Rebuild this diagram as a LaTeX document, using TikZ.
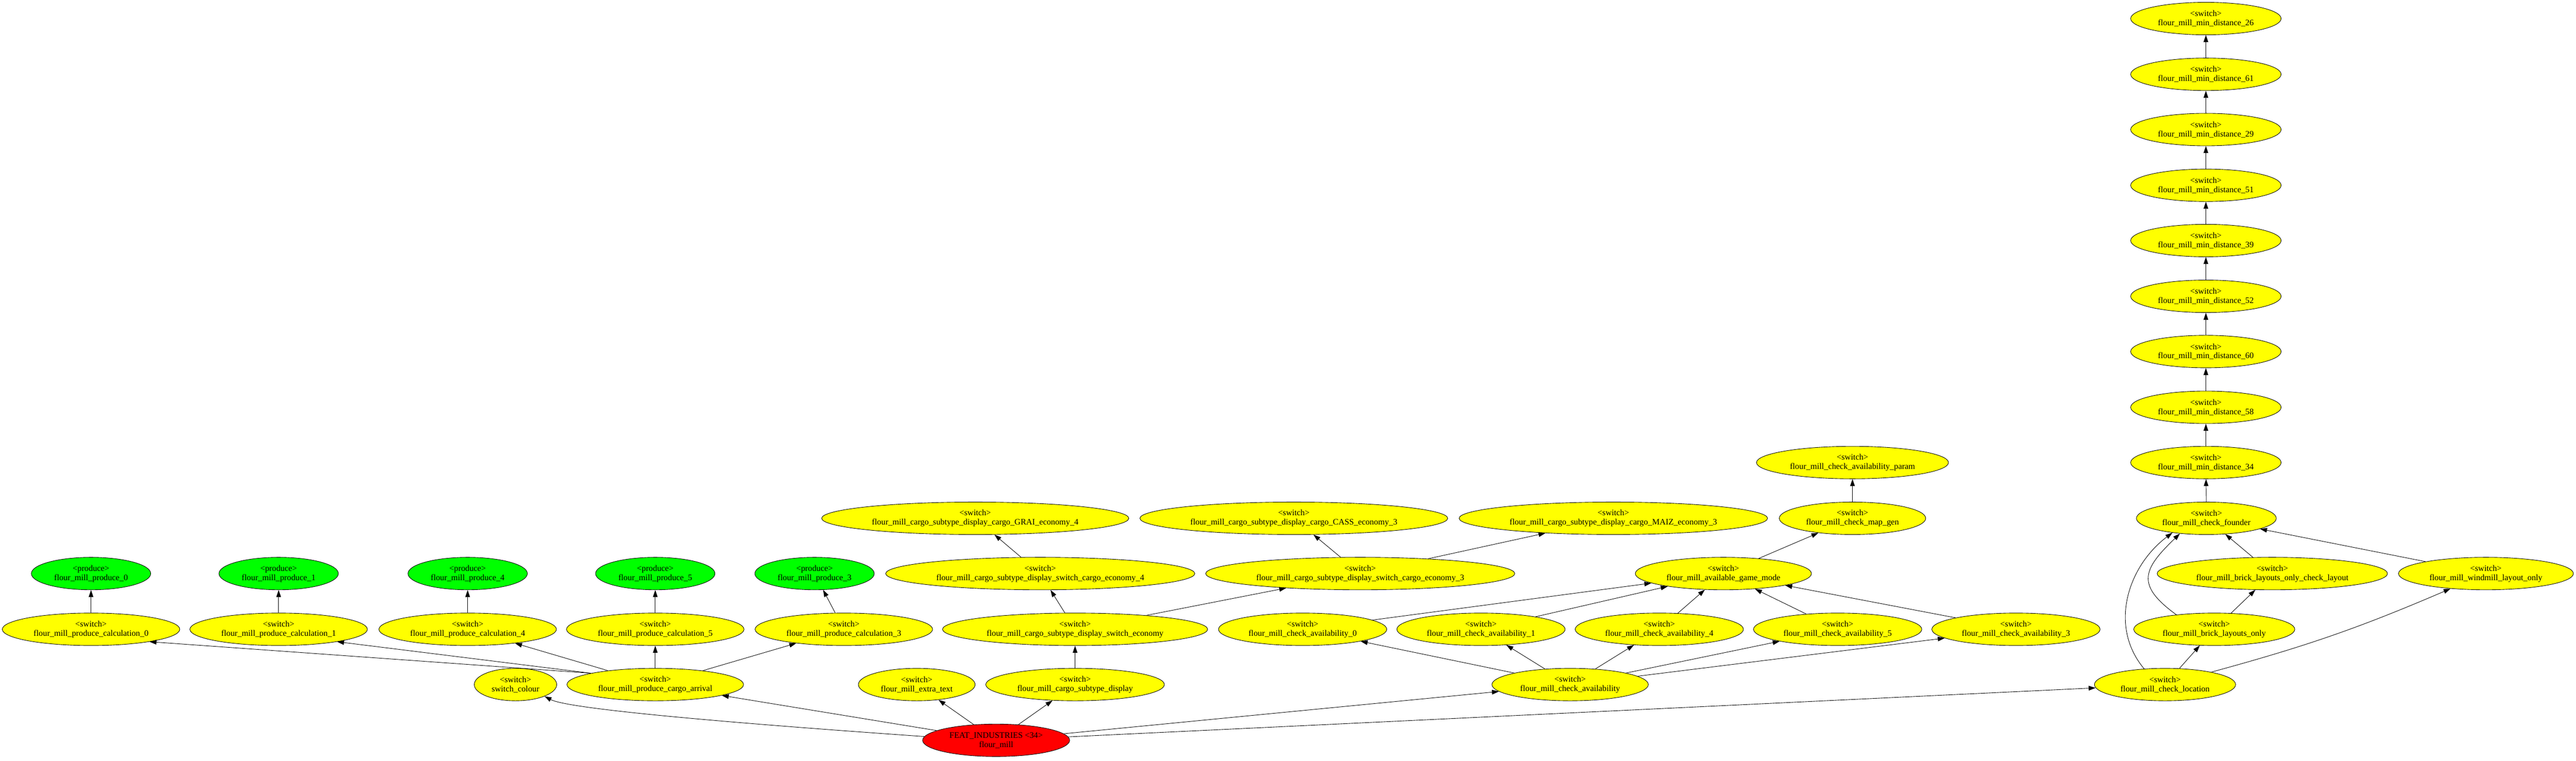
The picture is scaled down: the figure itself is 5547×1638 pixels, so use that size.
\documentclass[tikz,border=0pt]{standalone}
\usepackage{fontspec}
\setmainfont{Liberation Serif}
\usetikzlibrary{shapes.geometric,arrows.meta}
\definecolor{myyellow}{RGB}{255,255,0}
\definecolor{mygreen}{RGB}{0,255,0}
\definecolor{myred}{RGB}{255,0,0}

\begin{document}
\begin{tikzpicture}[x=0.2mm, y=0.2mm,
    gv/.style={ellipse, draw, line width=0.55pt, align=center, inner xsep=2.3mm, inner ysep=0pt,
        minimum height=14mm, font=\fontsize{10.3pt}{11.3pt}\selectfont},
    sw/.style={gv, fill=myyellow},
    prod/.style={gv, fill=mygreen},
    feat/.style={gv, fill=myred},
    link/.style={-{Triangle[length=3mm, width=2mm]}, line width=0.55pt}]
    \useasboundingbox (0, 0) rectangle (5547, 1638);

    \node[feat] (feat) at (2145, 44) {FEAT\_INDUSTRIES <34>\\flour\_mill};

    \node[sw] (colour) at (1110, 164) {<switch>\\switch\_colour};
    \node[sw] (arrival) at (1411, 164) {<switch>\\flour\_mill\_produce\_cargo\_arrival};
    \node[sw] (extra) at (1974, 164) {<switch>\\flour\_mill\_extra\_text};
    \node[sw] (display) at (2315, 164) {<switch>\\flour\_mill\_cargo\_subtype\_display};
    \node[sw] (avail) at (3381, 164) {<switch>\\flour\_mill\_check\_availability};
    \node[sw] (loc) at (4662, 164) {<switch>\\flour\_mill\_check\_location};

    \node[sw] (calc0) at (196, 283) {<switch>\\flour\_mill\_produce\_calculation\_0};
    \node[sw] (calc1) at (600, 283) {<switch>\\flour\_mill\_produce\_calculation\_1};
    \node[sw] (calc4) at (1007, 283) {<switch>\\flour\_mill\_produce\_calculation\_4};
    \node[sw] (calc5) at (1411, 283) {<switch>\\flour\_mill\_produce\_calculation\_5};
    \node[sw] (calc3) at (1817, 283) {<switch>\\flour\_mill\_produce\_calculation\_3};
    \node[sw] (economy) at (2315, 283) {<switch>\\flour\_mill\_cargo\_subtype\_display\_switch\_economy};
    \node[sw] (avail0) at (2805, 283) {<switch>\\flour\_mill\_check\_availability\_0};
    \node[sw] (avail1) at (3189, 283) {<switch>\\flour\_mill\_check\_availability\_1};
    \node[sw] (avail4) at (3573, 283) {<switch>\\flour\_mill\_check\_availability\_4};
    \node[sw] (avail5) at (3957, 283) {<switch>\\flour\_mill\_check\_availability\_5};
    \node[sw] (avail3) at (4341, 283) {<switch>\\flour\_mill\_check\_availability\_3};
    \node[sw] (brick) at (4768, 283) {<switch>\\flour\_mill\_brick\_layouts\_only};

    \node[prod] (prod0) at (196, 403) {<produce>\\flour\_mill\_produce\_0};
    \node[prod] (prod1) at (600, 403) {<produce>\\flour\_mill\_produce\_1};
    \node[prod] (prod4) at (1007, 403) {<produce>\\flour\_mill\_produce\_4};
    \node[prod] (prod5) at (1411, 403) {<produce>\\flour\_mill\_produce\_5};
    \node[prod] (prod3) at (1754, 403) {<produce>\\flour\_mill\_produce\_3};
    \node[sw] (eco4) at (2240, 403) {<switch>\\flour\_mill\_cargo\_subtype\_display\_switch\_cargo\_economy\_4};
    \node[sw] (eco3) at (2929, 403) {<switch>\\flour\_mill\_cargo\_subtype\_display\_switch\_cargo\_economy\_3};
    \node[sw] (gamemode) at (3711, 403) {<switch>\\flour\_mill\_available\_game\_mode};
    \node[sw] (brickcheck) at (4893, 403) {<switch>\\flour\_mill\_brick\_layouts\_only\_check\_layout};
    \node[sw] (windmill) at (5353, 403) {<switch>\\flour\_mill\_windmill\_layout\_only};

    \node[sw] (grai) at (2100, 522) {<switch>\\flour\_mill\_cargo\_subtype\_display\_cargo\_GRAI\_economy\_4};
    \node[sw] (cass) at (2786, 522) {<switch>\\flour\_mill\_cargo\_subtype\_display\_cargo\_CASS\_economy\_3};
    \node[sw] (maiz) at (3474, 522) {<switch>\\flour\_mill\_cargo\_subtype\_display\_cargo\_MAIZ\_economy\_3};
    \node[sw] (mapgen) at (3989, 522) {<switch>\\flour\_mill\_check\_map\_gen};
    \node[sw] (founder) at (4751, 522) {<switch>\\flour\_mill\_check\_founder};

    \node[sw] (param) at (3989, 642) {<switch>\\flour\_mill\_check\_availability\_param};
    \node[sw] (min34) at (4750, 642) {<switch>\\flour\_mill\_min\_distance\_34};
    \node[sw] (min58) at (4750, 761) {<switch>\\flour\_mill\_min\_distance\_58};
    \node[sw] (min60) at (4750, 881) {<switch>\\flour\_mill\_min\_distance\_60};
    \node[sw] (min52) at (4750, 1000) {<switch>\\flour\_mill\_min\_distance\_52};
    \node[sw] (min39) at (4750, 1120) {<switch>\\flour\_mill\_min\_distance\_39};
    \node[sw] (min51) at (4750, 1239) {<switch>\\flour\_mill\_min\_distance\_51};
    \node[sw] (min29) at (4750, 1359) {<switch>\\flour\_mill\_min\_distance\_29};
    \node[sw] (min61) at (4750, 1478) {<switch>\\flour\_mill\_min\_distance\_61};
    \node[sw] (min26) at (4750, 1598) {<switch>\\flour\_mill\_min\_distance\_26};

    \draw[link] (feat.177) .. controls +(176:400) and +(-28:60) .. (colour.-22);
    \draw[link] (feat) -- (arrival);
    \draw[link] (feat) -- (extra);
    \draw[link] (feat) -- (display);
    \draw[link] (feat) -- (avail);
    \draw[link] (feat) -- (loc);

    \draw[link] (arrival.170) -- (calc0.-12);
    \draw[link] (arrival.170) -- (calc1.-12);
    \draw[link] (arrival) -- (calc4);
    \draw[link] (arrival) -- (calc5);
    \draw[link] (arrival) -- (calc3);
    \draw[link] (calc0) -- (prod0);
    \draw[link] (calc1) -- (prod1);
    \draw[link] (calc4) -- (prod4);
    \draw[link] (calc5) -- (prod5);
    \draw[link] (calc3) -- (prod3);

    \draw[link] (display) -- (economy);
    \draw[link] (economy) -- (eco4);
    \draw[link] (economy) -- (eco3);
    \draw[link] (eco4) -- (grai);
    \draw[link] (eco3) -- (cass);
    \draw[link] (eco3) -- (maiz);

    \draw[link] (avail) -- (avail0);
    \draw[link] (avail) -- (avail1);
    \draw[link] (avail) -- (avail4);
    \draw[link] (avail) -- (avail5);
    \draw[link] (avail) -- (avail3);
    \draw[link] (avail0) -- (gamemode);
    \draw[link] (avail1) -- (gamemode);
    \draw[link] (avail4) -- (gamemode);
    \draw[link] (avail5) -- (gamemode);
    \draw[link] (avail3) -- (gamemode);
    \draw[link] (gamemode) -- (mapgen);
    \draw[link] (mapgen) -- (param);

    \draw[link] (loc) -- (brick);
    \draw[link] (loc) to[bend right=4] (windmill);
    \draw[link] (loc.143) .. controls +(130:120) and +(-143:120) .. (founder.-157);
    \draw[link] (brick.159) .. controls +(144:110) and +(-136:110) .. (founder.-150);
    \draw[link] (brick) -- (brickcheck);
    \draw[link] (brickcheck) -- (founder);
    \draw[link] (windmill) -- (founder);
    \draw[link] (founder) -- (min34);
    \draw[link] (min34) -- (min58);
    \draw[link] (min58) -- (min60);
    \draw[link] (min60) -- (min52);
    \draw[link] (min52) -- (min39);
    \draw[link] (min39) -- (min51);
    \draw[link] (min51) -- (min29);
    \draw[link] (min29) -- (min61);
    \draw[link] (min61) -- (min26);
\end{tikzpicture}
\end{document}
